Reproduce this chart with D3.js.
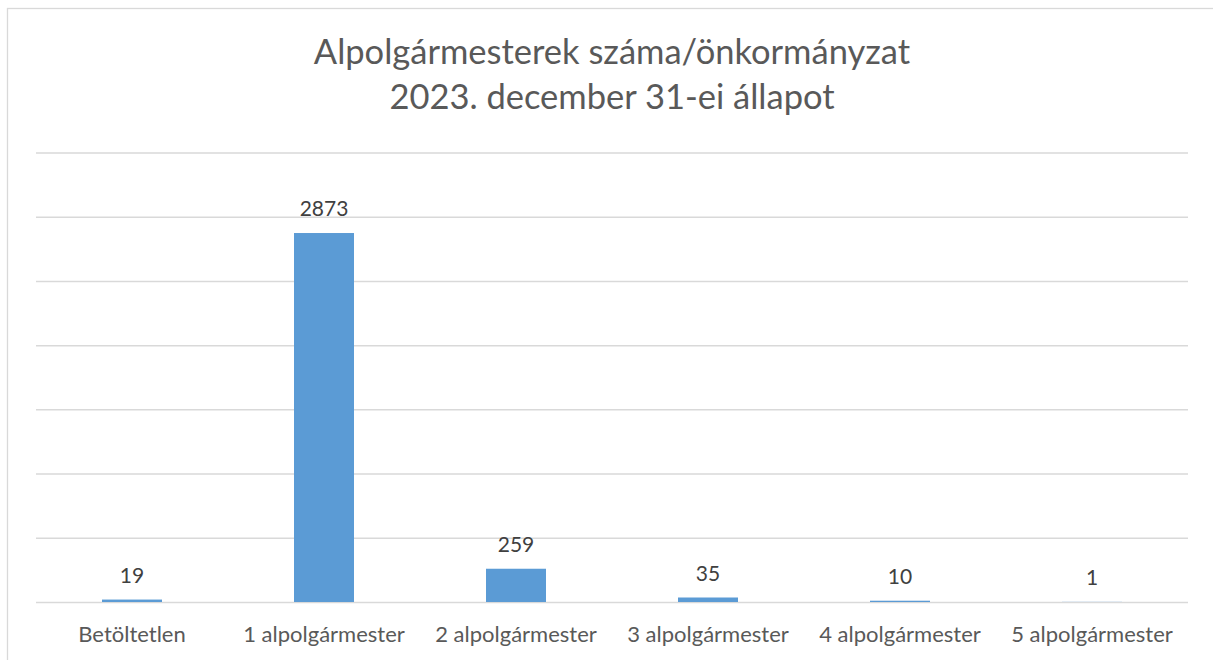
<!DOCTYPE html>
<html>
<head>
<meta charset="utf-8">
<script src="https://cdn.jsdelivr.net/npm/d3@7"></script>
<style>
html,body{margin:0;padding:0;background:#fff;}
svg{display:block;}
</style>
</head>
<body>
<svg id="chart" width="1213" height="660"></svg>
<script>
const titleLines = ["Alpolgármesterek száma/önkormányzat", "2023. december 31-ei állapot"];
const categories = ["Betöltetlen", "1 alpolgármester", "2 alpolgármester", "3 alpolgármester", "4 alpolgármester", "5 alpolgármester"];
const values = [19, 2873, 259, 35, 10, 1];
const yTicks = [0, 500, 1000, 1500, 2000, 2500, 3000, 3500];

const W = 1213, H = 660;
const svg = d3.select("#chart");
const font = "Lato, 'Open Sans', sans-serif";

// chart area border (extends beyond the viewport on right/bottom)
svg.append("rect").attr("x", 7.5).attr("y", 8.5).attr("width", W + 20).attr("height", H + 20)
  .attr("fill", "#fff").attr("stroke", "#d9d9d9").attr("stroke-width", 1.3);

const plot = {left: 36, right: 1188, top: 152.5, bottom: 602};

const x = d3.scaleBand().domain(categories).range([plot.left, plot.right]).paddingInner(0.6875).paddingOuter(0.34375);
const y = d3.scaleLinear().domain([0, 3500]).range([plot.bottom, plot.top]);

// gridlines
const yAxis = d3.axisLeft(y).tickValues(yTicks).tickSize(-(plot.right - plot.left)).tickFormat("");
const gy = svg.append("g").attr("transform", `translate(${plot.left},0)`).call(yAxis);
gy.select(".domain").remove();
gy.selectAll(".tick line").attr("stroke", "#d9d9d9").attr("stroke-width", 1.5);

// bars
svg.append("g").selectAll("rect").data(values).join("rect")
  .attr("x", (d, i) => x(categories[i]))
  .attr("width", x.bandwidth())
  .attr("y", d => y(d))
  .attr("height", d => y(0) - y(d))
  .attr("fill", "#5b9bd5");

// value labels
svg.append("g").selectAll("text").data(values).join("text")
  .attr("x", (d, i) => x(categories[i]) + x.bandwidth() / 2)
  .attr("y", d => y(d) - 17)
  .attr("text-anchor", "middle")
  .attr("font-family", font).attr("font-size", 21).attr("fill", "#404040")
  .text(d => d);

// category axis
const xAxis = d3.axisBottom(x).tickSize(0).tickPadding(0);
const gx = svg.append("g").attr("transform", `translate(0,${plot.bottom})`).call(xAxis);
gx.select(".domain").remove();
gx.selectAll(".tick text").attr("dy", null).attr("y", 39.5)
  .attr("font-family", font).attr("font-size", 22).attr("fill", "#595959");

// title
svg.append("g").selectAll("text").data(titleLines).join("text")
  .attr("x", 612).attr("y", (d, i) => 64 + i * 45)
  .attr("text-anchor", "middle")
  .attr("font-family", font).attr("font-size", 34.5).attr("fill", "#595959")
  .text(d => d);
</script>
</body>
</html>
